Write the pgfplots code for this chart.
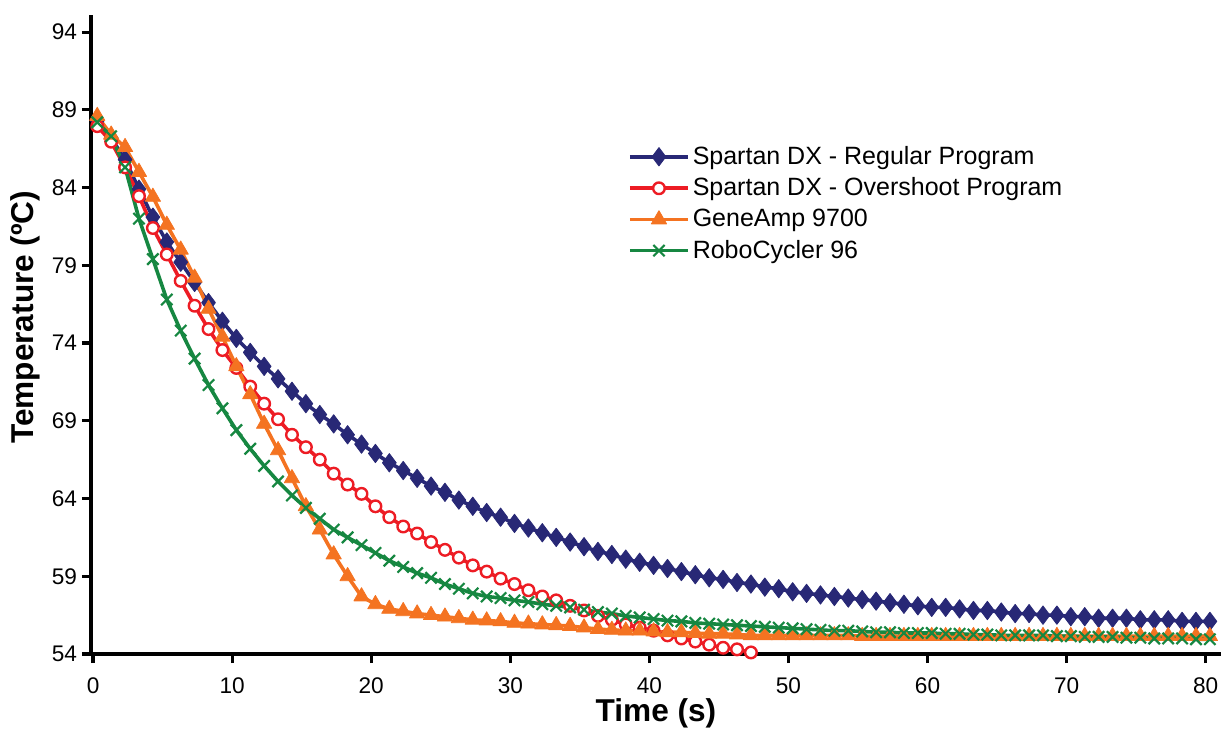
\documentclass[border=0pt]{standalone}
\usepackage{fontspec}
\setmainfont{Liberation Sans}
\usepackage{pgfplots}
\usepackage{pgfplotstable}
\pgfplotsset{compat=1.18}
\definecolor{navy}{RGB}{40,40,118}
\definecolor{ovred}{RGB}{237,28,36}
\definecolor{gaorange}{RGB}{244,115,33}
\definecolor{rcgreen}{RGB}{22,135,65}

\pgfplotstableread{
i T
0 88.3
1 87.2
2 85.8
3 83.9
4 82.1
5 80.5
6 79.2
7 77.9
8 76.6
9 75.4
10 74.3
11 73.4
12 72.5
13 71.7
14 70.9
15 70.1
16 69.4
17 68.8
18 68.1
19 67.5
20 66.9
21 66.3
22 65.8
23 65.3
24 64.8
25 64.4
26 63.9
27 63.5
28 63.1
29 62.8
30 62.4
31 62.1
32 61.8
33 61.5
34 61.2
35 60.9
36 60.6
37 60.4
38 60.1
39 59.9
40 59.7
41 59.5
42 59.3
43 59.1
44 58.9
45 58.8
46 58.6
47 58.5
48 58.3
49 58.2
50 58.0
51 57.9
52 57.8
53 57.7
54 57.6
55 57.5
56 57.4
57 57.3
58 57.2
59 57.1
60 57.0
61 57.0
62 56.9
63 56.8
64 56.8
65 56.7
66 56.6
67 56.6
68 56.5
69 56.5
70 56.4
71 56.4
72 56.3
73 56.3
74 56.3
75 56.2
76 56.2
77 56.2
78 56.1
79 56.1
80 56.1
}\regular

\pgfplotstableread{
i T
0 87.95
1 86.95
2 85.3
3 83.45
4 81.4
5 79.7
6 78.0
7 76.4
8 74.9
9 73.55
10 72.4
11 71.2
12 70.1
13 69.1
14 68.1
15 67.3
16 66.5
17 65.6
18 64.9
19 64.3
20 63.5
21 62.8
22 62.2
23 61.75
24 61.2
25 60.7
26 60.2
27 59.7
28 59.3
29 58.85
30 58.5
31 58.1
32 57.7
33 57.45
34 57.1
35 56.8
36 56.45
37 56.2
38 55.9
39 55.7
40 55.5
41 55.2
42 55.0
43 54.8
44 54.6
45 54.4
46 54.3
47 54.1
}\overshoot

\pgfplotstableread{
i T
0 88.6
1 87.4
2 86.6
3 85.0
4 83.4
5 81.6
6 80.0
7 78.2
8 76.2
9 74.4
10 72.5
11 70.7
12 68.8
13 67.1
14 65.3
15 63.5
16 62.0
17 60.4
18 59.0
19 57.7
20 57.2
21 56.9
22 56.75
23 56.6
24 56.5
25 56.4
26 56.3
27 56.2
28 56.15
29 56.1
30 56.0
31 55.95
32 55.9
33 55.85
34 55.8
35 55.7
36 55.6
37 55.55
38 55.5
39 55.5
40 55.45
41 55.4
42 55.4
43 55.35
44 55.3
45 55.3
46 55.25
47 55.2
48 55.2
49 55.2
50 55.2
51 55.2
52 55.2
53 55.2
54 55.2
55 55.15
56 55.15
57 55.15
58 55.15
59 55.15
60 55.15
61 55.15
62 55.15
63 55.15
64 55.15
65 55.15
66 55.15
67 55.15
68 55.15
69 55.15
70 55.15
71 55.15
72 55.15
73 55.15
74 55.15
75 55.15
76 55.15
77 55.15
78 55.15
79 55.15
80 55.15
}\geneamp

\pgfplotstableread{
i T
0 88.2
1 87.3
2 85.3
3 82.0
4 79.4
5 76.8
6 74.8
7 73.0
8 71.3
9 69.8
10 68.4
11 67.2
12 66.1
13 65.1
14 64.2
15 63.4
16 62.7
17 62.0
18 61.5
19 61.0
20 60.5
21 60.0
22 59.6
23 59.2
24 58.9
25 58.5
26 58.2
27 57.9
28 57.7
29 57.6
30 57.45
31 57.35
32 57.2
33 57.1
34 57.0
35 56.85
36 56.7
37 56.6
38 56.45
39 56.35
40 56.25
41 56.15
42 56.1
43 56.0
44 55.95
45 55.9
46 55.85
47 55.8
48 55.75
49 55.7
50 55.65
51 55.6
52 55.55
53 55.5
54 55.5
55 55.45
56 55.4
57 55.4
58 55.35
59 55.35
60 55.35
61 55.3
62 55.3
63 55.25
64 55.25
65 55.2
66 55.2
67 55.2
68 55.2
69 55.15
70 55.15
71 55.1
72 55.1
73 55.1
74 55.05
75 55.05
76 55.0
77 55.0
78 55.0
79 54.95
80 54.95
}\robocycler

\begin{document}
\begin{tikzpicture}
\useasboundingbox (-45.5pt,-38pt) rectangle (570pt,327pt);
\begin{axis}[
  at={(0pt,0pt)}, anchor=south west,
  scale only axis, width=565pt, height=319.5pt,
  xmin=-0.15, xmax=81.1, ymin=54, ymax=95.1,
  axis lines=left,
  axis line style={-, line width=1.8pt, black},
  xtick={0,10,...,80}, ytick={54,59,...,94},
  tick align=outside, major tick length=4.5pt,
  tick style={line width=1.6pt, black},
  tick label style={font=\fontsize{11.3}{13}\selectfont},
  /pgf/number format/assume math mode=true,
  xticklabel style={yshift=-4pt},
  yticklabel style={xshift=1pt},
  clip=false,
  xlabel={Time (s)}, ylabel={Temperature (ºC)},
  label style={font=\bfseries\fontsize{15.8}{18}\selectfont},
  xlabel style={at={(axis description cs:0.5,0)}, anchor=center, yshift=-29.5pt},
  ylabel style={at={(axis description cs:0,0.527)}, anchor=center, yshift=33pt},
  legend style={at={(0.475,0.80)}, anchor=north west, draw=none, fill=none,
    font=\fontsize{12.5}{15.5}\selectfont, row sep=2.2pt, inner sep=0pt,
    nodes={inner xsep=1.5pt, inner ysep=1.5pt}},
  legend cell align=left,
  legend image code/.code={\draw[mark repeat=2,mark phase=2] plot coordinates {(0pt,0pt) (14.5pt,0pt) (29pt,0pt)};},
]
\addplot[navy, line width=1.8pt, line join=round, mark=diamond*, mark size=4.6pt, mark options={solid, fill=navy, line width=0.4pt}]
  table[x expr=\thisrow{i}+0.3, y=T] {\regular};
\addlegendentry{Spartan DX - Regular Program}
\addplot[ovred, line width=1.8pt, line join=round, mark=*, mark size=2.9pt, mark options={solid, fill=white, draw=ovred, line width=1.2pt}]
  table[x expr=\thisrow{i}+0.3, y=T] {\overshoot};
\addlegendentry{Spartan DX - Overshoot Program}
\addplot[gaorange, line width=1.8pt, line join=round, mark=triangle*, mark size=4.4pt, mark options={solid, fill=gaorange, line width=0.4pt}]
  table[x expr=\thisrow{i}+0.3, y=T] {\geneamp};
\addlegendentry{GeneAmp 9700}
\addplot[rcgreen, line width=1.8pt, line join=round, mark=x, mark size=4pt, mark options={solid, line width=1.1pt}]
  table[x expr=\thisrow{i}+0.3, y=T] {\robocycler};
\addlegendentry{RoboCycler 96}
\end{axis}
\end{tikzpicture}
\end{document}
